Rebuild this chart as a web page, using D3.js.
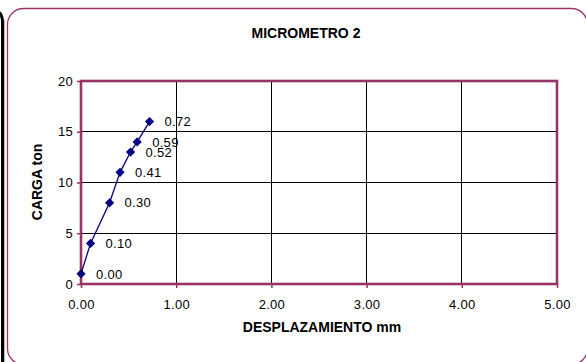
<!DOCTYPE html>
<html>
<head>
<meta charset="utf-8">
<script src="https://cdn.jsdelivr.net/npm/d3@7/dist/d3.min.js"></script>
<style>
  html, body { margin: 0; padding: 0; background: #fff; }
  svg { display: block; font-family: "Liberation Sans", Arial, sans-serif; }
</style>
</head>
<body>
<svg id="chart" width="586" height="362"></svg>
<script>
// Load test, micrometer 2: displacement (mm) vs. load (ton)
const chartTitle = "MICROMETRO 2";
const xTitle = "DESPLAZAMIENTO mm";
const yTitle = "CARGA ton";
const desplazamiento = [0.00, 0.10, 0.30, 0.41, 0.52, 0.59, 0.72];
const carga = [1, 4, 8, 11, 13, 14, 16];
const xTicks = [0, 1, 2, 3, 4, 5];
const yTicks = [0, 5, 10, 15, 20];

const plum = "#993366";
const navy = "#000080";

const svg = d3.select("#chart");

// Edge of the neighbouring panel on the left
svg.append("path")
  .attr("d", "M -20 11 L -6 11 Q 2.5 11 2.5 22 L 2.5 362")
  .attr("fill", "none").attr("stroke", "#000").attr("stroke-width", 3);
svg.append("line")
  .attr("x1", 4.6).attr("x2", 4.6).attr("y1", 20).attr("y2", 362)
  .attr("stroke", "#999").attr("stroke-width", 0.8);

// Chart frame
svg.append("rect")
  .attr("x", 7.5).attr("y", 8.5).attr("width", 580).attr("height", 356)
  .attr("rx", 16).attr("ry", 16)
  .attr("fill", "#fff").attr("stroke", plum).attr("stroke-width", 1.3);

const x = d3.scaleLinear().domain([0, 5]).range([81, 557]);
const y = d3.scaleLinear().domain([0, 20]).range([284, 81]);

// Gridlines
const grid = svg.append("g");
grid.selectAll("line.v").data(xTicks.slice(1, -1)).join("line")
  .attr("x1", d => x(d)).attr("x2", d => x(d))
  .attr("y1", y(20)).attr("y2", y(0))
  .attr("stroke", "#000").attr("stroke-width", 1).attr("shape-rendering", "crispEdges");
grid.selectAll("line.h").data(yTicks.slice(1, -1)).join("line")
  .attr("x1", x(0)).attr("x2", x(5))
  .attr("y1", d => y(d)).attr("y2", d => y(d))
  .attr("stroke", "#000").attr("stroke-width", 1).attr("shape-rendering", "crispEdges");

// Axes
const xAxis = svg.append("g").attr("transform", `translate(0,${y(0)})`)
  .call(d3.axisBottom(x).tickValues(xTicks).tickFormat(d3.format(".2f")).tickSize(4).tickPadding(12));
const yAxis = svg.append("g").attr("transform", `translate(${x(0)},0)`)
  .call(d3.axisLeft(y).tickValues(yTicks).tickSize(4).tickPadding(4));
[xAxis, yAxis].forEach(g => {
  g.select(".domain").remove();
  g.selectAll(".tick line").attr("stroke", plum).attr("stroke-width", 1.5);
  g.selectAll(".tick text").attr("fill", "#000")
    .style("font-size", "13px").style("letter-spacing", "0.3px")
    .style("font-family", "'Liberation Sans', Arial, sans-serif");
});

// Plot area border
svg.append("rect")
  .attr("x", x(0)).attr("y", y(20))
  .attr("width", x(5) - x(0)).attr("height", y(0) - y(20))
  .attr("fill", "none").attr("stroke", plum).attr("stroke-width", 2.6);

// Series
const pts = desplazamiento.map((d, i) => ({ x: d, y: carga[i] }));
svg.append("path").datum(pts)
  .attr("d", d3.line().x(d => x(d.x)).y(d => y(d.y)))
  .attr("fill", "none").attr("stroke", navy).attr("stroke-width", 1.3);
svg.append("g").selectAll("path").data(pts).join("path")
  .attr("transform", d => `translate(${x(d.x)},${y(d.y)})`)
  .attr("d", "M0,-4.6 L4.6,0 L0,4.6 L-4.6,0 Z")
  .attr("fill", navy);

// Point labels
svg.append("g").selectAll("text").data(pts).join("text")
  .attr("x", d => x(d.x) + 15).attr("y", d => y(d.y))
  .attr("dy", "0.36em")
  .style("font-size", "13px").style("letter-spacing", "0.3px")
  .text(d => d3.format(".2f")(d.x));

// Titles
svg.append("text")
  .attr("x", 306).attr("y", 38).attr("text-anchor", "middle")
  .style("font-size", "14px").style("font-weight", "bold")
  .text(chartTitle);
svg.append("text")
  .attr("x", 322).attr("y", 332).attr("text-anchor", "middle")
  .style("font-size", "14px").style("font-weight", "bold")
  .text(xTitle);
svg.append("text")
  .attr("transform", "translate(42,182) rotate(-90)").attr("text-anchor", "middle")
  .style("font-size", "14px").style("font-weight", "bold")
  .text(yTitle);
</script>
</body>
</html>
